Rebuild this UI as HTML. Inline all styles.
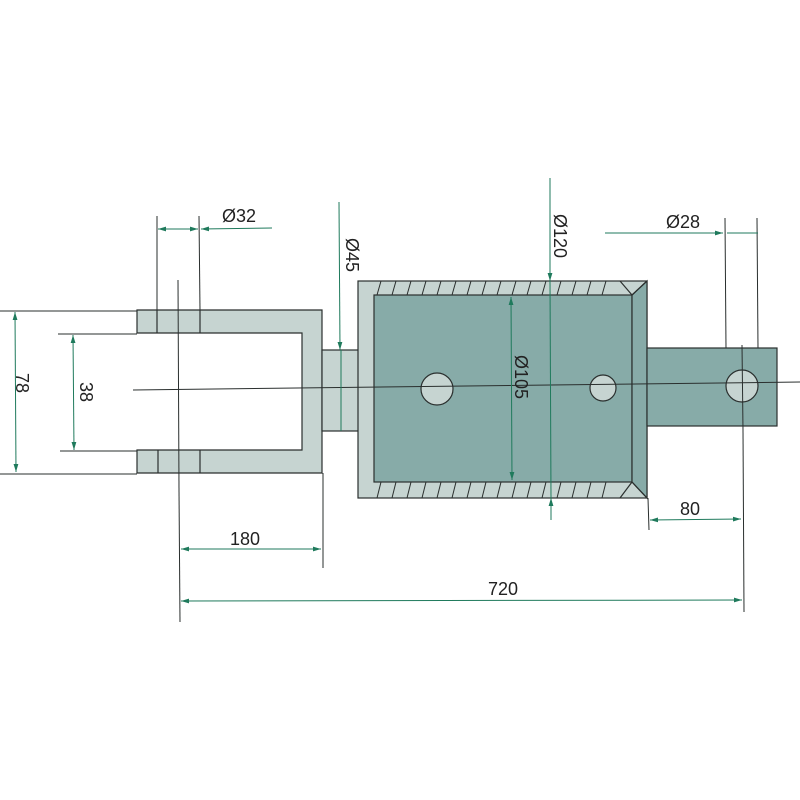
<!DOCTYPE html>
<html><head><style>body{margin:0;background:#fff}svg{display:block}</style></head><body>
<svg width="800" height="800" viewBox="0 0 800 800" xmlns="http://www.w3.org/2000/svg" font-family="Liberation Sans, sans-serif">
<defs>
<marker id="a" viewBox="0 0 10 6" refX="10" refY="3" markerWidth="8" markerHeight="5" orient="auto-start-reverse"><path d="M0,0L10,3L0,6z" fill="#1f7a5c"/></marker>
</defs>
<g stroke="#2a2f2e" stroke-width="1.2">
<path d="M137,310H322V473H137V450H302V333H137Z" fill="#c6d4d1"/>
<line x1="157" y1="310" x2="157" y2="333"/><line x1="200" y1="310" x2="200" y2="333"/>
<line x1="158" y1="450" x2="158" y2="473"/><line x1="200" y1="450" x2="200" y2="473"/>
<rect x="322" y="350" width="37" height="81" fill="#c6d4d1"/>
<rect x="358" y="281" width="289" height="217" fill="#c6d4d1"/>
<rect x="374" y="295" width="258" height="187" fill="#87aba8"/>
<path d="M632,295L647,281V498L632,482Z" fill="#87aba8"/>
<path d="M632,295L647,281M632,482L647,498M620,281L632,295M620,498L632,482" />
<rect x="647" y="348" width="130" height="78" fill="#87aba8"/>
<circle cx="437" cy="389" r="16" fill="#c6d4d1"/>
<circle cx="603" cy="388" r="13" fill="#c6d4d1"/>
<circle cx="742" cy="386" r="16" fill="#c6d4d1"/>
</g>
<g stroke="#2a2f2e" stroke-width="1">
<path d="M381,281l-4,14M396,281l-4,14M411,281l-4,14M426,281l-4,14M441,281l-4,14M456,281l-4,14M471,281l-4,14M486,281l-4,14M501,281l-4,14M516,281l-4,14M531,281l-4,14M546,281l-4,14M561,281l-4,14M576,281l-4,14M591,281l-4,14M606,281l-4,14"/>
<path d="M381,482l-4,16M396,482l-4,16M411,482l-4,16M426,482l-4,16M441,482l-4,16M456,482l-4,16M471,482l-4,16M486,482l-4,16M501,482l-4,16M516,482l-4,16M531,482l-4,16M546,482l-4,16M561,482l-4,16M576,482l-4,16M591,482l-4,16M606,482l-4,16"/>
<line x1="133" y1="390" x2="800" y2="382"/>
<line x1="178" y1="280" x2="179" y2="490"/>
<line x1="742" y1="345" x2="743" y2="430"/>
<line x1="0" y1="311" x2="137" y2="311"/><line x1="0" y1="474" x2="137" y2="474"/>
<line x1="58" y1="334" x2="137" y2="334"/><line x1="60" y1="451" x2="137" y2="451"/>
<line x1="157" y1="216" x2="157" y2="310"/><line x1="199" y1="216" x2="200" y2="310"/>
<line x1="179" y1="490" x2="180" y2="622"/><line x1="323" y1="473" x2="323" y2="568"/>
<line x1="648" y1="498" x2="649" y2="530"/><line x1="743" y1="430" x2="744" y2="612"/>
<line x1="725" y1="218" x2="726" y2="348"/><line x1="757" y1="218" x2="758" y2="348"/>
</g>
<g stroke="#1f7a5c" stroke-width="1" fill="none">
<line x1="15" y1="312" x2="16" y2="472" marker-start="url(#a)" marker-end="url(#a)"/>
<line x1="73" y1="335" x2="74" y2="450" marker-start="url(#a)" marker-end="url(#a)"/>
<line x1="158" y1="229" x2="198" y2="229" marker-start="url(#a)" marker-end="url(#a)"/>
<line x1="272" y1="228" x2="201" y2="229" marker-end="url(#a)"/>
<line x1="339" y1="202" x2="340" y2="350" marker-end="url(#a)"/>
<line x1="341" y1="350" x2="341" y2="431"/>
<line x1="550" y1="178" x2="550" y2="281" marker-end="url(#a)"/>
<line x1="550" y1="281" x2="551" y2="498"/>
<line x1="551" y1="520" x2="551" y2="498" marker-end="url(#a)"/>
<line x1="511" y1="297" x2="512" y2="480" marker-start="url(#a)" marker-end="url(#a)"/>
<line x1="605" y1="233" x2="723" y2="233" marker-end="url(#a)"/>
<line x1="758" y1="233" x2="727" y2="233"/>
<line x1="181" y1="549" x2="321" y2="549" marker-start="url(#a)" marker-end="url(#a)"/>
<line x1="650" y1="520" x2="741" y2="519" marker-start="url(#a)" marker-end="url(#a)"/>
<line x1="181" y1="601" x2="742" y2="600" marker-start="url(#a)" marker-end="url(#a)"/>
</g>
<g fill="#222" font-size="18">
<text x="222" y="222">Ø32</text>
<text x="666" y="228">Ø28</text>
<text x="230" y="545">180</text>
<text x="680" y="515">80</text>
<text x="488" y="595">720</text>
<text transform="translate(16,383) rotate(90)" text-anchor="middle">78</text>
<text transform="translate(80,392) rotate(90)" text-anchor="middle">38</text>
<text transform="translate(346,255) rotate(90)" text-anchor="middle">Ø45</text>
<text transform="translate(554,236) rotate(90)" text-anchor="middle">Ø120</text>
<text transform="translate(515,377) rotate(90)" text-anchor="middle">Ø105</text>
</g>
</svg>
</body></html>
